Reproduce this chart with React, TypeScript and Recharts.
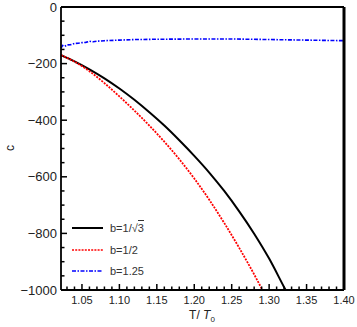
import { LineChart, Line, XAxis, YAxis } from 'recharts';

// black solid curve, b = 1/sqrt(3)
const tBlack = [1.022, 1.04, 1.06, 1.08, 1.10, 1.12, 1.14, 1.16, 1.18, 1.20, 1.22, 1.24, 1.26, 1.28, 1.30, 1.32, 1.322];
const cBlack = [-170, -192, -220, -252, -288, -328, -372, -419, -471, -526, -585, -650, -722, -801, -889, -990, -1000];

// red dotted curve, b = 1/2
const tRed = [1.022, 1.04, 1.06, 1.08, 1.10, 1.12, 1.14, 1.16, 1.18, 1.20, 1.22, 1.24, 1.26, 1.28, 1.291];
const cRed = [-170, -193, -227, -269, -316, -366, -419, -476, -538, -606, -681, -763, -851, -945, -1000];

// blue dash-dot curve, b = 1.25
const tBlue = [1.022, 1.024, 1.027, 1.03, 1.035, 1.04, 1.045, 1.05, 1.055, 1.06, 1.065, 1.07, 1.08, 1.10, 1.12, 1.15, 1.20, 1.25, 1.30, 1.35, 1.40];
const cBlue = [-145, -136, -139, -134, -133, -129, -128, -126, -125, -121, -123, -121, -119, -117, -115, -114, -113, -113, -115, -117, -119];

const seriesNames = ['b=1/√3', 'b=1/2', 'b=1.25'];
const seriesColors = ['#000000', '#ff0000', '#0000ff'];
const seriesDash = [undefined, '2 1.2', '4 1.5 1.5 1.5'];

const xDomain = [1.022, 1.4];
const yDomain = [-1000, 0];
const xMajor = [1.05, 1.10, 1.15, 1.20, 1.25, 1.30, 1.35, 1.40];
const yMajor = [0, -200, -400, -600, -800, -1000];

const xTicks: number[] = [];
for (let i = 103; i <= 140; i++) xTicks.push(i / 100);
const yTicks: number[] = [];
for (let v = 0; v >= -1000; v -= 50) yTicks.push(v);

const toRows = (ts: number[], cs: number[]) => ts.map((t, i) => ({ T: t, c: cs[i] }));
const dataBlack = toRows(tBlack, cBlack);
const dataRed = toRows(tRed, cRed);
const dataBlue = toRows(tBlue, cBlue);

const FONT = '"Liberation Sans", Arial, sans-serif';
const AXIS = { stroke: '#000', strokeWidth: 1.8 };

const isMajorX = (v: number) => xMajor.some(m => Math.abs(m - v) < 1e-6);
const isMajorY = (v: number) => yMajor.some(m => Math.abs(m - v) < 1e-6);

const BottomTick = (props: any) => {
  const { x, y, payload } = props;
  const major = isMajorX(payload.value);
  return (
    <g>
      <path d={`M${x},${y}V${y - (major ? 6 : 3.5)}`} stroke="#000" strokeWidth={1.5} fill="none" />
      {major && (
        <text x={x} y={y + 14} textAnchor="middle" fontSize={11} fontFamily={FONT} fill="#222">
          {payload.value.toFixed(2)}
        </text>
      )}
    </g>
  );
};

const TopTick = (props: any) => {
  const { x, y, payload } = props;
  const major = isMajorX(payload.value);
  return <path d={`M${x},${y}V${y + (major ? 6 : 3.5)}`} stroke="#000" strokeWidth={1.5} fill="none" />;
};

const LeftTick = (props: any) => {
  const { x, y, payload } = props;
  const major = isMajorY(payload.value);
  return (
    <g>
      <path d={`M${x},${y}H${x + (major ? 6 : 3.5)}`} stroke="#000" strokeWidth={1.5} fill="none" />
      {major && (
        <text x={x - 4} y={y + 4.5} textAnchor="end" fontSize={13} fontFamily={FONT} fill="#222">
          {payload.value === 0 ? '0' : '\u2212' + Math.abs(payload.value)}
        </text>
      )}
    </g>
  );
};

const RightTick = (props: any) => {
  const { x, y, payload } = props;
  const major = isMajorY(payload.value);
  return <path d={`M${x},${y}H${x - (major ? 6 : 3.5)}`} stroke="#000" strokeWidth={1.5} fill="none" />;
};

const LegendBox = () => (
  <div
    style={{
      position: 'absolute',
      left: 72,
      top: 216,
      fontFamily: FONT,
      fontSize: 11,
      color: '#333',
    }}
  >
    {seriesNames.map((name, i) => (
      <div key={name} style={{ display: 'flex', alignItems: 'center', height: i === 0 ? 23 : 21 }}>
        <svg width={34} height={6} style={{ marginRight: 4 }}>
          <line
            x1={0}
            x2={31}
            y1={3}
            y2={3}
            stroke={seriesColors[i]}
            strokeWidth={i === 0 ? 2 : 1.6}
            strokeDasharray={seriesDash[i]}
          />
        </svg>
        {i === 0 ? (
          <span>
            b=1/√<span style={{ borderTop: '1px solid #333', paddingTop: 1 }}>3</span>
          </span>
        ) : (
          <span>{name}</span>
        )}
      </div>
    ))}
  </div>
);

export default function App() {
  return (
    <div style={{ position: 'absolute', left: 0, top: 0, width: 357, height: 327, background: '#fff' }}>
      <LineChart width={357} height={327} margin={{ top: 0, right: 0, bottom: 0, left: 0 }}>
        <XAxis
          xAxisId="b"
          type="number"
          dataKey="T"
          domain={xDomain}
          ticks={xTicks}
          interval={0}
          height={37}
          tickSize={0}
          tickMargin={0}
          tick={<BottomTick />}
          axisLine={AXIS}
        />
        <XAxis
          xAxisId="t"
          orientation="top"
          type="number"
          dataKey="T"
          domain={xDomain}
          ticks={xTicks}
          interval={0}
          height={7}
          tickSize={0}
          tickMargin={0}
          tick={<TopTick />}
          axisLine={AXIS}
        />
        <YAxis
          yAxisId="l"
          type="number"
          domain={yDomain}
          ticks={yTicks}
          interval={0}
          width={61}
          tickSize={0}
          tickMargin={0}
          tick={<LeftTick />}
          axisLine={AXIS}
        />
        <YAxis
          yAxisId="r"
          orientation="right"
          type="number"
          domain={yDomain}
          ticks={yTicks}
          interval={0}
          width={13}
          tickSize={0}
          tickMargin={0}
          tick={<RightTick />}
          axisLine={{ stroke: '#000', strokeWidth: 3 }}
        />
        <Line
          xAxisId="b"
          yAxisId="l"
          data={dataBlack}
          dataKey="c"
          name={seriesNames[0]}
          stroke={seriesColors[0]}
          strokeWidth={2}
          dot={false}
          type="monotone"
          isAnimationActive={false}
        />
        <Line
          xAxisId="b"
          yAxisId="l"
          data={dataRed}
          dataKey="c"
          name={seriesNames[1]}
          stroke={seriesColors[1]}
          strokeWidth={1.8}
          strokeDasharray={seriesDash[1]}
          dot={false}
          type="monotone"
          isAnimationActive={false}
        />
        <Line
          xAxisId="b"
          yAxisId="l"
          data={dataBlue}
          dataKey="c"
          name={seriesNames[2]}
          stroke={seriesColors[2]}
          strokeWidth={1.6}
          strokeDasharray={seriesDash[2]}
          dot={false}
          type="linear"
          isAnimationActive={false}
        />
      </LineChart>
      <LegendBox />
      <div
        style={{
          position: 'absolute',
          left: 3,
          top: 141,
          width: 14,
          height: 14,
          fontFamily: FONT,
          fontSize: 12,
          color: '#222',
          transform: 'rotate(-90deg)',
          textAlign: 'center',
          lineHeight: '14px',
        }}
      >
        c
      </div>
      <div
        style={{
          position: 'absolute',
          left: 162,
          top: 308,
          width: 80,
          textAlign: 'center',
          fontFamily: FONT,
          fontSize: 12,
          color: '#222',
          lineHeight: '14px',
        }}
      >
        T/ <i>T</i>
        <sub style={{ fontSize: 8 }}>0</sub>
      </div>
    </div>
  );
}
